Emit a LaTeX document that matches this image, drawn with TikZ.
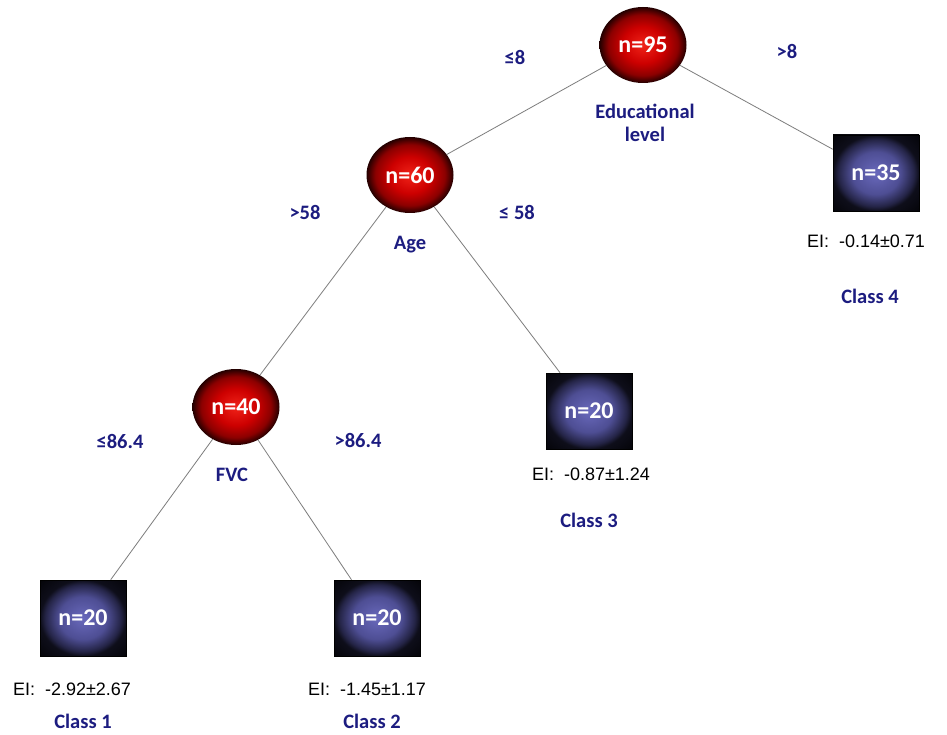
\documentclass[tikz,border=0pt]{standalone}
\usepackage{fontspec}
\setmainfont{Carlito}
\newfontfamily\arialfont{Liberation Sans}
\usetikzlibrary{shapes.geometric}
\definecolor{lblblue}{RGB}{28,28,128}
\definecolor{edgegray}{RGB}{125,125,125}
\definecolor{rbA}{RGB}{240,35,25}
\definecolor{rbB}{RGB}{205,0,0}
\definecolor{rbC}{RGB}{140,0,0}
\definecolor{rbD}{RGB}{35,0,0}
\definecolor{sqA}{RGB}{105,105,188}
\definecolor{sqB}{RGB}{78,78,148}
\definecolor{sqC}{RGB}{36,36,70}
\definecolor{sqD}{RGB}{14,14,26}
\definecolor{sqE}{RGB}{4,4,8}
\pgfdeclareradialshading{redball}{\pgfpoint{0bp}{0bp}}{color(0bp)=(rbA); color(12bp)=(rbB); color(20bp)=(rbC); color(25bp)=(rbD); color(50bp)=(rbD)}
\pgfdeclareradialshading{navybox}{\pgfpoint{0bp}{0bp}}{color(0bp)=(sqA); color(14bp)=(sqB); color(22bp)=(sqC); color(25bp)=(sqD); color(36bp)=(sqE); color(50bp)=(sqE)}
\begin{document}
\begin{tikzpicture}[x=1pt,y=-1pt,
  split/.style={ellipse, minimum width=87pt, minimum height=76pt, inner sep=0pt, shading=redball, text=white, font=\bfseries\fontsize{24}{26}\selectfont},
  leaf/.style={rectangle, minimum width=86pt, minimum height=76pt, inner sep=0pt, shading=navybox, draw=black, line width=0.6pt, text=white, font=\bfseries\fontsize{24}{26}\selectfont},
  lbl/.style={text=lblblue, font=\bfseries\fontsize{20.5}{23}\selectfont, align=center, inner sep=0pt},
  ei/.style={font=\arialfont\fontsize{18}{20}\selectfont, inner sep=0pt},
  conn/.style={draw=edgegray, line width=0.8pt}]
\useasboundingbox[fill=white] (0,0) rectangle (947,735);
% split nodes
\node[split] (root) at (643,45) {n=95};
\node[split] (age) at (410,175) {n=60};
\node[split] (fvc) at (236,407) {n=40};
% leaf nodes
\node[leaf] (c4) at (876,173) {n=35};
\node[leaf] (c3) at (589,411) {n=20};
\node[leaf] (c1) at (83,618) {n=20};
\node[leaf] (c2) at (377,618) {n=20};
% connectors
\draw[conn] (root) -- (age);
\draw[conn] (root) -- (c4);
\draw[conn] (age) -- (fvc);
\draw[conn] (age) -- (c3);
\draw[conn] (fvc) -- (c1);
\draw[conn] (fvc) -- (c2);
% variable labels
\node[lbl] (tedu) at (645,123) {Educational\\level};
\node[lbl] (tage) at (410,245) {Age};
\node[lbl] (tfvc) at (232,475) {FVC};
% edge labels
\node[lbl] (l8) at (515,58) {≤8};
\node[lbl] (g8) at (787,52) {>8};
\node[lbl] (g58) at (305,212) {>58};
\node[lbl] (l58) at (517,212) {≤ 58};
\node[lbl] (l864) at (120,441) {≤86.4};
\node[lbl] (g864) at (358,440) {>86.4};
% EI values
\node[ei] (e4) at (866,241) {EI:\ \ -0.14±0.71};
\node[ei] (e3) at (591,474) {EI:\ \ -0.87±1.24};
\node[ei] (e1) at (72,689) {EI:\ \ -2.92±2.67};
\node[ei] (e2) at (367,689) {EI:\ \ -1.45±1.17};
% class labels
\node[lbl] (k4) at (870,296) {Class 4};
\node[lbl] (k3) at (589,520) {Class 3};
\node[lbl] (k1) at (83,721) {Class 1};
\node[lbl] (k2) at (372,721) {Class 2};
\end{tikzpicture}
\end{document}
